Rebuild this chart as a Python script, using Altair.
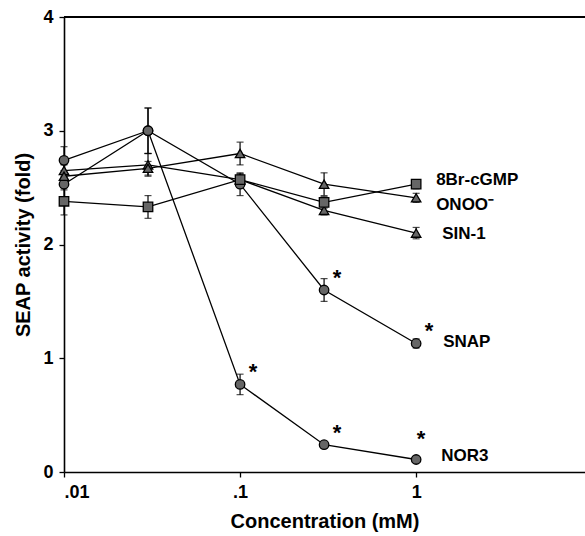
import altair as alt
import pandas as pd

# Concentrations (mM) and mean fold SEAP activity with error for each compound
conc = [0.01, 0.03, 0.1, 0.3, 1]
series_names = ["NOR3", "SNAP", "SIN-1", "ONOO⁻", "8Br-cGMP"]
nor3 = [2.74, 3.00, 0.77, 0.24, 0.11]
nor3_err = [0.12, 0.20, 0.09, 0.03, 0.02]
snap = [2.53, 3.00, 2.53, 1.60, 1.13]
snap_err = [0.05, 0.20, 0.10, 0.10, 0.04]
sin1 = [2.65, 2.70, 2.57, 2.30, 2.10]
sin1_err = [0.05, 0.10, 0.05, 0.04, 0.05]
onoo = [2.60, 2.67, 2.80, 2.53, 2.41]
onoo_err = [0.05, 0.06, 0.10, 0.10, 0.04]
br_cgmp = [2.38, 2.33, 2.57, 2.37, 2.53]
br_cgmp_err = [0.12, 0.10, 0.05, 0.05, 0.04]

# Significant points (series, concentration)
signif = [("NOR3", 0.1), ("NOR3", 0.3), ("SNAP", 0.3), ("SNAP", 1)]
signif_high = [("NOR3", 1)]

means = [nor3, snap, sin1, onoo, br_cgmp]
errs = [nor3_err, snap_err, sin1_err, onoo_err, br_cgmp_err]

rows = []
for name, m, e in zip(series_names, means, errs):
    for c, v, s in zip(conc, m, e):
        rows.append({"series": name, "conc": c, "mean": v,
                     "lo": v - s, "hi": v + s})
df = pd.DataFrame(rows)

last = df[df["conc"] == 1].copy()
star_df = pd.DataFrame([r for r in rows if (r["series"], r["conc"]) in signif])
star_hi_df = pd.DataFrame([r for r in rows if (r["series"], r["conc"]) in signif_high])
star_df["star"] = "*"
star_hi_df["star"] = "*"

FONT = "Liberation Sans"
W, H = 521, 455

xscale = alt.Scale(type="log", domain=[0.01, 9.1], nice=False)
yscale = alt.Scale(domain=[0, 4], nice=False)

x_enc = alt.X("conc:Q", scale=xscale,
              axis=alt.Axis(values=[0.01, 0.1, 1], title="Concentration (mM)",
                            labelExpr="datum.value == 0.01 ? '.01' : (datum.value == 0.1 ? '.1' : '1')",
                            titlePadding=10, labelPadding=6))
y_enc = alt.Y("mean:Q", scale=yscale,
              axis=alt.Axis(values=[0, 1, 2, 3, 4], format="d",
                            title="SEAP activity (fold)",
                            titlePadding=9, labelPadding=6))

base = alt.Chart(df)

lines = base.mark_line(color="black", strokeWidth=1.3).encode(
    x=x_enc, y=y_enc, detail="series:N")

bars = base.mark_rule(color="black", strokeWidth=1.2).encode(
    x="conc:Q", y="lo:Q", y2="hi:Q")
caps_hi = base.mark_tick(color="black", orient="horizontal", size=7, thickness=1.2).encode(
    x="conc:Q", y="hi:Q")
caps_lo = base.mark_tick(color="black", orient="horizontal", size=7, thickness=1.2).encode(
    x="conc:Q", y="lo:Q")

points = base.mark_point(filled=True, fill="#666666", stroke="black",
                         strokeWidth=1.3, opacity=1, size=90).encode(
    x="conc:Q", y="mean:Q",
    shape=alt.Shape("series:N", legend=None,
                    scale=alt.Scale(domain=series_names,
                                    range=["circle", "circle", "triangle-up",
                                           "triangle-up", "square"])))

# End-of-line series labels, each nudged beside its last point
label_offsets = {"8Br-cGMP": (20, -4), "ONOO⁻": (20, 7), "SIN-1": (26, 1),
                 "SNAP": (27, -1), "NOR3": (25, -3)}
label_layers = []
for name, (ox, oy) in label_offsets.items():
    label_layers.append(
        alt.Chart(last[last["series"] == name]).mark_text(
            align="left", baseline="middle", dx=ox, dy=oy,
            font=FONT, fontWeight="bold", fontSize=17, color="black").encode(
            x="conc:Q", y="mean:Q", text="series:N"))

stars = alt.Chart(star_df).mark_text(align="center", baseline="middle", dx=13, dy=-12,
                                     font=FONT, fontWeight="bold", fontSize=22,
                                     color="black").encode(
    x="conc:Q", y="mean:Q", text="star:N")
stars_hi = alt.Chart(star_hi_df).mark_text(align="center", baseline="middle", dx=5, dy=-20,
                                           font=FONT, fontWeight="bold", fontSize=22,
                                           color="black").encode(
    x="conc:Q", y="mean:Q", text="star:N")

top_line = alt.Chart(df).mark_rule(color="black", strokeWidth=1.6).encode(
    x=alt.value(0), x2=alt.value(W), y=alt.value(0))

chart = alt.layer(top_line, lines, bars, caps_hi, caps_lo, points,
                  *label_layers, stars, stars_hi).properties(
    width=W, height=H,
    autosize=alt.AutoSizeParams(type="none"),
    padding={"left": 64, "top": 17, "right": 0, "bottom": 64},
    background="white",
).configure_view(stroke=None).configure_axis(
    grid=False, domainColor="black", domainWidth=1.6, tickColor="black",
    tickSize=5, tickWidth=1.3, labelColor="black", labelFont=FONT,
    labelFontWeight="bold", labelFontSize=18, titleColor="black",
    titleFont=FONT, titleFontWeight="bold", titleFontSize=20,
)

chart.save("out.html", embed_options={"renderer": "svg", "actions": False})
